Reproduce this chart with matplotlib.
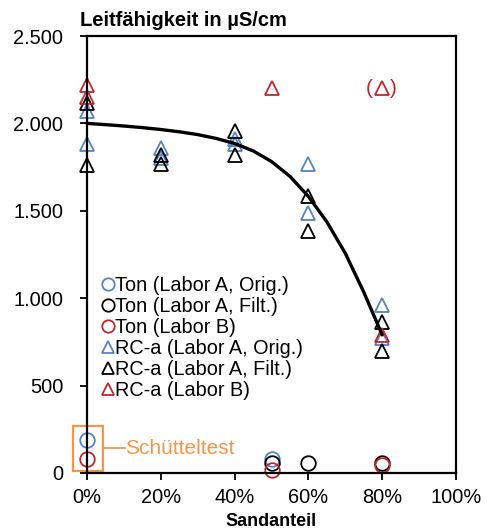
import matplotlib
matplotlib.use('Agg')
import matplotlib.pyplot as plt
from matplotlib.patches import Rectangle
from matplotlib.ticker import FuncFormatter

plt.rcParams['font.family'] = ['Liberation Sans', 'DejaVu Sans']

BLUE = '#5484c4'
RED = '#c0262d'
ORANGE = '#f79646'

# Ton (Sandanteil, Leitfähigkeit)
ton_a_orig_x = [0.0, 0.5]
ton_a_orig_y = [189, 80]
ton_a_filt_x = [0.5, 0.6, 0.8]
ton_a_filt_y = [60, 57, 55]
ton_b_x = [0.0, 0.5, 0.8]
ton_b_y = [80, 15, 45]

# RC-a
rc_a_orig_x = [0.0, 0.0, 0.2, 0.2, 0.4, 0.4, 0.6, 0.6, 0.8, 0.8]
rc_a_orig_y = [2070, 1880, 1860, 1800, 1910, 1880, 1766, 1490, 960, 775]
rc_a_filt_x = [0.0, 0.0, 0.2, 0.2, 0.4, 0.4, 0.6, 0.6, 0.8, 0.8]
rc_a_filt_y = [2115, 1760, 1820, 1770, 1955, 1820, 1583, 1382, 866, 700]
rc_b_x = [0.0, 0.0, 0.5, 0.8]
rc_b_y = [2220, 2150, 2200, 790]
# unsicherer Wert, in Klammern
rc_b_unsicher_x = [0.8]
rc_b_unsicher_y = [2200]

# Trendlinie
fit_x = [0.0, 0.05, 0.1, 0.15, 0.2, 0.25, 0.3, 0.35, 0.4, 0.45, 0.5, 0.55, 0.6, 0.65, 0.7, 0.75, 0.8]
fit_y = [2000, 1993, 1985, 1976, 1965, 1952, 1936, 1914, 1885, 1843, 1782, 1697, 1582, 1437, 1257, 1035, 790]

fig = plt.figure(figsize=(4.91, 5.30), dpi=100)
ax = fig.add_axes([87 / 491, 57 / 530, 369 / 491, 437 / 530])

ms_c = 10.5
ms_t = 10.5
mew = 1.3
kw = dict(ls='none', mfc='none', mew=mew, clip_on=False)
ax.plot(ton_a_orig_x, ton_a_orig_y, 'o', mec=BLUE, ms=ms_c, label='Ton (Labor A, Orig.)', **kw)
ax.plot(ton_a_filt_x, ton_a_filt_y, 'o', mec='black', ms=ms_c, label='Ton (Labor A, Filt.)', **kw)
ax.plot(ton_b_x, ton_b_y, 'o', mec=RED, ms=ms_c, label='Ton (Labor B)', **kw)
ax.plot(rc_a_orig_x, rc_a_orig_y, '^', mec=BLUE, ms=ms_t, label='RC-a (Labor A, Orig.)', **kw)
ax.plot(rc_a_filt_x, rc_a_filt_y, '^', mec='black', ms=ms_t, label='RC-a (Labor A, Filt.)', **kw)
ax.plot(rc_b_x, rc_b_y, '^', mec=RED, ms=ms_t, label='RC-a (Labor B)', **kw)
ax.plot(rc_b_unsicher_x, rc_b_unsicher_y, '^', mec=RED, ms=ms_t, **kw)

ax.plot(fit_x, fit_y, '-', color='black', lw=2.4, solid_capstyle='round',
        solid_joinstyle='round', clip_on=False)

for x, y in zip(rc_b_unsicher_x, rc_b_unsicher_y):
    ax.text(x - 0.036, y, '(', color=RED, fontsize=15, ha='center', va='center')
    ax.text(x + 0.030, y, ')', color=RED, fontsize=15, ha='center', va='center')

# Schütteltest-Markierung
ax.add_patch(Rectangle((-0.038, 11), 0.081, 258, fill=False, ec=ORANGE, lw=1.6, clip_on=False))
ax.plot([0.043, 0.103], [143, 143], color=ORANGE, lw=1.3, clip_on=False)
ax.text(0.104, 143, 'Schütteltest', color=ORANGE, fontsize=15, ha='left', va='center')

ax.set_xlim(0, 1.0)
ax.set_ylim(0, 2500)
ax.set_xticks([0, 0.2, 0.4, 0.6, 0.8, 1.0])
ax.set_yticks([0, 500, 1000, 1500, 2000, 2500])
ax.xaxis.set_major_formatter(FuncFormatter(lambda v, p: f'{v * 100:.0f}%'))
ax.yaxis.set_major_formatter(FuncFormatter(lambda v, p: f'{v:,.0f}'.replace(',', '.')))
ax.tick_params(labelsize=14.4, direction='out', length=5, width=1.3, colors='black')
ax.tick_params(axis='y', pad=12)
ax.tick_params(axis='x', pad=6)
for s in ax.spines.values():
    s.set_linewidth(1.6)

ax.set_xlabel('Sandanteil', fontsize=13, fontweight='bold', labelpad=4)
fig.text(80 / 491, 1 - 20 / 530, 'Leitfähigkeit in µS/cm', fontsize=14.5, fontweight='bold',
         ha='left', va='center')

ax.legend(loc='upper left', bbox_to_anchor=(0.04, 0.45), frameon=False, fontsize=14.3,
          handlelength=0.6, handletextpad=0.05, labelspacing=0.1, borderpad=0, borderaxespad=0,
          markerscale=0.85)

fig.savefig('out.png', dpi=100)
